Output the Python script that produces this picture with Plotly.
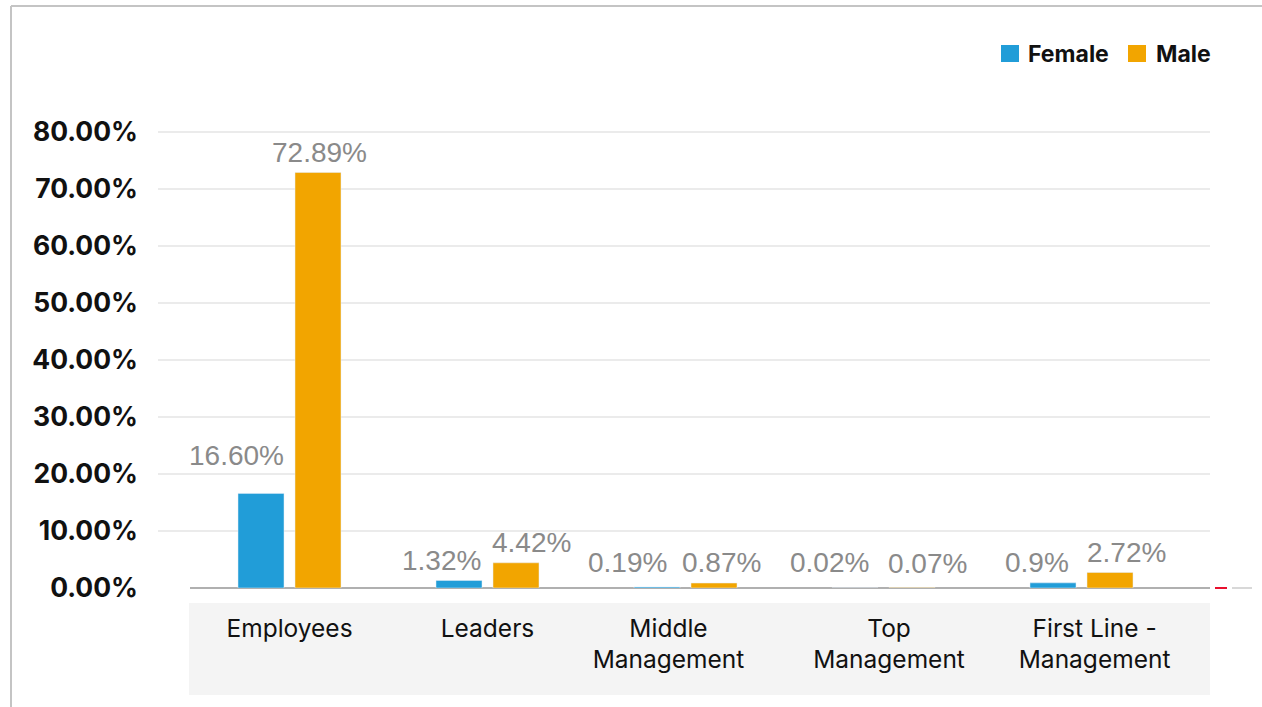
import plotly.graph_objects as go

# Share of headcount by level and gender (percent)
categories = ["Employees", "Leaders", "Middle<br>Management", "Top<br>Management", "First Line -<br>Management"]
female = [16.60, 1.32, 0.19, 0.02, 0.9]
male = [72.89, 4.42, 0.87, 0.07, 2.72]
female_labels = ["16.60%", "1.32%", "0.19%", "0.02%", "0.9%"]
male_labels = ["72.89%", "4.42%", "0.87%", "0.07%", "2.72%"]
y_ticks = [0, 10, 20, 30, 40, 50, 60, 70, 80]
y_tick_text = ["0.00%", "10.00%", "20.00%", "30.00%", "40.00%", "50.00%", "60.00%", "70.00%", "80.00%"]

BLUE = "#219DD8"
ORANGE = "#F2A500"
W, H = 1262, 707

# plot area in pixels
L, R, T, B = 158, 1210, 120, 588
PW, PH = R - L, B - T


def px_x(x):
    return (x - L) / PW


def px_y(y):
    return (B - y) / PH


cat_pitch = 198.0           # pixels per category
first_center = 289.5
x_idx = list(range(len(categories)))
x_range = [(L - first_center) / cat_pitch, (R - first_center) / cat_pitch]
bargap = 1 - 114 / cat_pitch
bargroupgap = 1 - 46 / 57
half_pitch = (1 - bargap) * cat_pitch / 4
px_per_ten = 57.0           # pixels per 10 percentage points
y_top = 80 + (B - T - 8 * px_per_ten) * 10 / px_per_ten

# per-category nudges of the wrapped category labels (in category units)
label_nudge = [0.0, 0.0, -0.086, 0.028, 0.066]
# value-label offsets in pixels (dx, gap above bar top)
f_dx = [-25, -18, -30, -26, -16]
m_dx = [1, 15, 7, 15, 16]
f_dy = [27, 9, 14, 15, 10]
m_dy = [10, 10, 10, 14, 10]

fig = go.Figure()
fig.add_trace(go.Bar(name="Female", x=x_idx, y=female, marker_color=BLUE,
                     showlegend=False, hoverinfo="skip"))
fig.add_trace(go.Bar(name="Male", x=x_idx, y=male, marker_color=ORANGE,
                     showlegend=False, hoverinfo="skip"))

annotations = []
label_font = dict(family="Liberation Sans, Arial, sans-serif", size=28, color="#8a8a8a")
for i in x_idx:
    annotations.append(dict(x=i, y=female[i], xref="x", yref="y", text=female_labels[i],
                            showarrow=False, yanchor="bottom", xanchor="center",
                            xshift=-half_pitch + f_dx[i], yshift=f_dy[i] - 7, font=label_font))
    annotations.append(dict(x=i, y=male[i], xref="x", yref="y", text=male_labels[i],
                            showarrow=False, yanchor="bottom", xanchor="center",
                            xshift=half_pitch + m_dx[i], yshift=m_dy[i] - 7, font=label_font))

# legend
legend_font = dict(family="Inter, sans-serif", size=23, color="#111111", weight=700)
annotations.append(dict(x=px_x(1026), y=px_y(53.5), xref="paper", yref="paper", text="Female",
                        showarrow=False, xanchor="left", yanchor="middle", font=legend_font))
annotations.append(dict(x=px_x(1154), y=px_y(53.5), xref="paper", yref="paper", text="Male",
                        showarrow=False, xanchor="left", yanchor="middle", font=legend_font))

shapes = [
    # band behind category labels
    dict(type="rect", xref="paper", yref="paper", x0=px_x(189), x1=px_x(1210),
         y0=px_y(603), y1=px_y(695), fillcolor="#f4f4f4", line_width=0, layer="below"),
    # outer frame
    dict(type="line", xref="paper", yref="paper", x0=px_x(11), x1=px_x(1270),
         y0=px_y(6), y1=px_y(6), line=dict(color="#c4c4c4", width=2)),
    dict(type="line", xref="paper", yref="paper", x0=px_x(11), x1=px_x(11),
         y0=px_y(6), y1=px_y(715), line=dict(color="#c4c4c4", width=2)),
    # keep the baseline clear left of the bars area
    dict(type="rect", xref="paper", yref="paper", x0=px_x(150), x1=px_x(190),
         y0=px_y(591), y1=px_y(585), fillcolor="white", line_width=0, layer="above"),
    # marks past the axis end
    dict(type="line", xref="paper", yref="paper", x0=px_x(1215), x1=px_x(1227),
         y0=px_y(588), y1=px_y(588), line=dict(color="#e8102e", width=2)),
    dict(type="line", xref="paper", yref="paper", x0=px_x(1232), x1=px_x(1252),
         y0=px_y(588), y1=px_y(588), line=dict(color="#d8d8d8", width=2)),
    # legend swatches
    dict(type="rect", xref="paper", yref="paper", x0=px_x(1001), x1=px_x(1019),
         y0=px_y(62), y1=px_y(45), fillcolor=BLUE, line_width=0),
    dict(type="rect", xref="paper", yref="paper", x0=px_x(1128), x1=px_x(1146),
         y0=px_y(62), y1=px_y(45), fillcolor=ORANGE, line_width=0),
]

fig.update_layout(
    width=W, height=H,
    margin=dict(l=L, r=W - R, t=T, b=H - B, pad=0),
    paper_bgcolor="white", plot_bgcolor="white",
    barmode="group", bargap=bargap, bargroupgap=bargroupgap,
    showlegend=False,
    annotations=annotations,
    shapes=shapes,
)
fig.update_xaxes(
    range=x_range, showgrid=False, zeroline=False, showline=False, ticks="",
    tickmode="array", tickvals=[i + n for i, n in zip(x_idx, label_nudge)], ticktext=categories,
    tickfont=dict(family="Inter, sans-serif", size=24.5, color="#111111"),
    ticklabelstandoff=23,
)
fig.update_yaxes(
    range=[0, y_top],
    tickmode="array", tickvals=y_ticks, ticktext=y_tick_text,
    showgrid=True, gridcolor="#ebebeb", gridwidth=1.5,
    zeroline=True, zerolinecolor="#b0b0b0", zerolinewidth=2,
    showline=False, ticks="",
    tickfont=dict(family="Inter, sans-serif", size=26.5, color="#111111", weight=700),
    ticklabelstandoff=19,
)

fig.write_html("out.html")
